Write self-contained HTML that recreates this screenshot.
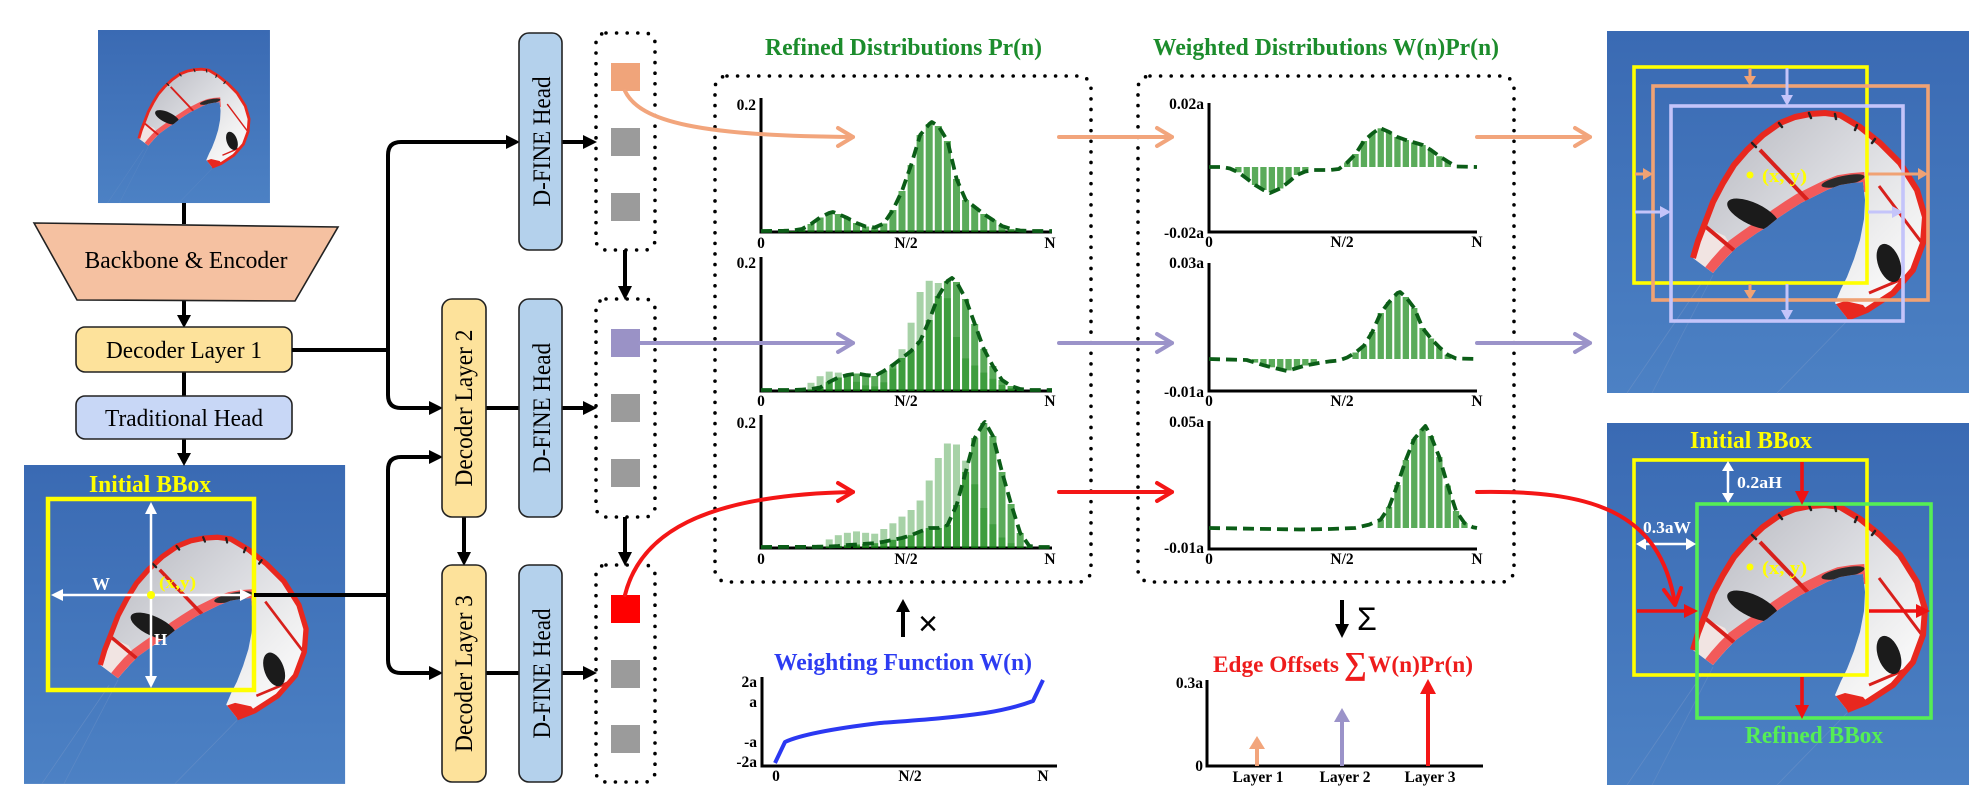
<!DOCTYPE html>
<html>
<head>
<meta charset="utf-8">
<style>
  html,body{margin:0;padding:0;background:#ffffff;}
  svg{display:block;}
</style>
</head>
<body>
<svg xmlns="http://www.w3.org/2000/svg" width="1983" height="809" viewBox="0 0 1983 809" font-family="'Liberation Serif','DejaVu Serif',serif">
  <defs>
    <linearGradient id="sky" x1="0" y1="0" x2="0" y2="1">
      <stop offset="0" stop-color="#3a6ab3"/>
      <stop offset="1" stop-color="#4c81c4"/>
    </linearGradient>
    <linearGradient id="kg" x1="0.1" y1="0.1" x2="0.9" y2="0.8">
      <stop offset="0" stop-color="#bcbdc4"/>
      <stop offset="0.45" stop-color="#d8d9de"/>
      <stop offset="0.8" stop-color="#eeeeef"/>
      <stop offset="1" stop-color="#f8f8f8"/>
    </linearGradient>
    <clipPath id="kc">
      <path d="M86,227 L91,210 L98,192 L106,171 L116,152 L127,134 L140,119 L156,104 L173,92 L188,86 L203,83 L218,82 L233,84 L253,96 L273,112 L293,132 L310,159 L318,186 L316,212 L306,239 L286,262 L260,279 L240,287 L228,272 L234,258 L240,246 L247,228 L253,209 L257,188 L258,169 L256,151 L245,152 L233,154 L220,159 L206,166 L194,172 L183,179 L171,187 L160,196 L150,202 L140,209 L129,217 L120,226 L112,235 L106,242 Z"/>
    </clipPath>
    <g id="photo">
      <rect x="0" y="0" width="362" height="362" fill="url(#sky)"/>
      <line x1="96" y1="250" x2="20" y2="362" stroke="#6f93c8" stroke-width="0.8" opacity="0.6"/>
      <line x1="106" y1="244" x2="45" y2="362" stroke="#6f93c8" stroke-width="0.8" opacity="0.5"/>
      <line x1="240" y1="290" x2="170" y2="362" stroke="#6f93c8" stroke-width="0.8" opacity="0.6"/>
      <path d="M86,227 L91,210 L98,192 L106,171 L116,152 L127,134 L140,119 L156,104 L173,92 L188,86 L203,83 L218,82 L233,84 L253,96 L273,112 L293,132 L310,159 L318,186 L316,212 L306,239 L286,262 L260,279 L240,287 L228,272 L234,258 L240,246 L247,228 L253,209 L257,188 L258,169 L256,151 L245,152 L233,154 L220,159 L206,166 L194,172 L183,179 L171,187 L160,196 L150,202 L140,209 L129,217 L120,226 L112,235 L106,242 Z" fill="url(#kg)"/>
      <g clip-path="url(#kc)">
        <polygon points="84,232 96,195 118,205 128,222 108,250" fill="#f1e4e2"/>
        <polyline points="100,250 112,235 120,226 129,217 140,209 150,202 160,196 171,187 183,179 194,172 206,166 220,159 233,154 245,152 258,151" stroke="#f25a5a" stroke-width="20" fill="none"/>
        <polygon points="226,274 240,290 262,281 256,274 238,270" fill="#e8281f"/>
        <line x1="99" y1="196" x2="135" y2="226" stroke="#d8201c" stroke-width="4"/>
        <line x1="153" y1="119" x2="210" y2="179" stroke="#d8201c" stroke-width="4"/>
        <line x1="272" y1="155" x2="318" y2="216" stroke="#d8201c" stroke-width="3"/>
        <line x1="262" y1="262" x2="300" y2="246" stroke="#d8201c" stroke-width="3"/>
        <ellipse cx="146" cy="183" rx="28" ry="11" transform="rotate(25 146 183)" fill="#1b1b1b"/>
        <ellipse cx="282" cy="232" rx="11" ry="20" transform="rotate(-20 282 232)" fill="#1b1b1b"/>
        <ellipse cx="236" cy="150" rx="22" ry="5" transform="rotate(-12 236 150)" fill="#2a2a2a"/>
      </g>
      <polyline points="86,227 91,210 98,192 106,171 116,152 127,134 140,119 156,104 173,92 188,86 203,83 218,82 233,84 253,96 273,112 293,132 310,159 318,186 316,212 306,239 286,262 260,279 240,287" stroke="#e8281f" stroke-width="6" fill="none" stroke-linejoin="round"/>
      <g stroke="#222" stroke-width="2.5" stroke-linecap="round">
        <line x1="145" y1="112" x2="149" y2="116"/>
        <line x1="172" y1="92" x2="175" y2="96"/>
        <line x1="202" y1="82" x2="204" y2="87"/>
        <line x1="228" y1="83" x2="229" y2="88"/>
        <line x1="250" y1="94" x2="248" y2="99"/>
        <line x1="268" y1="108" x2="265" y2="112"/>
      </g>
    </g>
  </defs>

  <!-- ============ LEFT COLUMN ============ -->
  <use href="#photo" transform="translate(98,30) scale(0.475,0.478)"/>
  <use href="#photo" transform="translate(24,465) scale(0.887,0.881)"/>

  <g stroke="#000" stroke-width="4" fill="none">
    <path d="M184,203 L184,224"/>
    <path d="M184,300 L184,316"/>
    <path d="M184,372 L184,396"/>
    <path d="M184,439 L184,454"/>
  </g>
  <g fill="#000">
    <polygon points="177,315 191,315 184,328"/>
    <polygon points="177,453 191,453 184,466"/>
  </g>

  <polygon points="34,223 338,227 295,301 77,300" fill="#f5c1a1" stroke="#222" stroke-width="1.6"/>
  <text x="186" y="268" font-size="24" text-anchor="middle" textLength="203" lengthAdjust="spacingAndGlyphs">Backbone &amp; Encoder</text>

  <rect x="76" y="327" width="216" height="45" rx="9" fill="#fde29b" stroke="#222" stroke-width="1.6"/>
  <text x="184" y="358" font-size="24" text-anchor="middle" textLength="156" lengthAdjust="spacingAndGlyphs">Decoder Layer 1</text>

  <rect x="76" y="396" width="216" height="43" rx="9" fill="#c8d7f6" stroke="#222" stroke-width="1.6"/>
  <text x="184" y="426" font-size="24" text-anchor="middle" textLength="158" lengthAdjust="spacingAndGlyphs">Traditional Head</text>

  <!-- bottom-left annotations -->
  <text x="150" y="492" font-size="24" font-weight="bold" fill="#ffff00" text-anchor="middle" textLength="122" lengthAdjust="spacingAndGlyphs">Initial BBox</text>
  <rect x="48" y="499" width="206" height="191" fill="none" stroke="#ffff00" stroke-width="4.5"/>
  <g stroke="#ffffff" stroke-width="2.5" fill="none">
    <line x1="151" y1="506" x2="151" y2="684"/>
    <line x1="56" y1="595" x2="246" y2="595"/>
  </g>
  <g fill="#ffffff">
    <polygon points="151,502 145,514 157,514"/>
    <polygon points="151,688 145,676 157,676"/>
    <polygon points="51,595 63,589 63,601"/>
    <polygon points="252,595 240,589 240,601"/>
  </g>
  <circle cx="151" cy="595" r="4" fill="#ffff00"/>
  <text x="92" y="590" font-size="18" font-weight="bold" fill="#ffffff">W</text>
  <text x="154" y="645" font-size="17" font-weight="bold" fill="#ffffff">H</text>
  <text x="159" y="588" font-size="17" font-weight="bold" fill="#ffff00" textLength="37" lengthAdjust="spacingAndGlyphs">(x,y)</text>

  <!-- connectors -->
  <g stroke="#000" stroke-width="4" fill="none" stroke-linejoin="round">
    <path d="M292,350 L388,350"/>
    <path d="M508,142 L401,142 Q388,142 388,155 L388,395 Q388,408 401,408 L431,408"/>
    <path d="M254,595 L388,595"/>
    <path d="M431,457 L401,457 Q388,457 388,470 L388,660 Q388,673 401,673 L431,673"/>
    <path d="M486,408 L519,408"/>
    <path d="M486,673 L519,673"/>
    <path d="M562,142 L585,142"/>
    <path d="M562,408 L585,408"/>
    <path d="M562,673 L585,673"/>
    <path d="M464,517 L464,554"/>
    <path d="M625,250 L625,288"/>
    <path d="M625,517 L625,554"/>
  </g>
  <g fill="#000">
    <polygon points="506,135 506,149 520,142"/>
    <polygon points="429,401 429,415 443,408"/>
    <polygon points="429,450 429,464 443,457"/>
    <polygon points="429,666 429,680 443,673"/>
    <polygon points="583,135 583,149 597,142"/>
    <polygon points="583,401 583,415 597,408"/>
    <polygon points="583,666 583,680 597,673"/>
    <polygon points="457,552 471,552 464,566"/>
    <polygon points="618,286 632,286 625,300"/>
    <polygon points="618,552 632,552 625,566"/>
  </g>

  <!-- decoder & heads -->
  <rect x="442" y="299" width="44" height="218" rx="10" fill="#fde29b" stroke="#222" stroke-width="1.6"/>
  <rect x="442" y="565" width="44" height="217" rx="10" fill="#fde29b" stroke="#222" stroke-width="1.6"/>
  <rect x="519" y="33" width="43" height="217" rx="10" fill="#b4d1ec" stroke="#222" stroke-width="1.6"/>
  <rect x="519" y="299" width="43" height="218" rx="10" fill="#b4d1ec" stroke="#222" stroke-width="1.6"/>
  <rect x="519" y="565" width="43" height="217" rx="10" fill="#b4d1ec" stroke="#222" stroke-width="1.6"/>
  <text transform="translate(472,408) rotate(-90)" font-size="25" text-anchor="middle" textLength="157" lengthAdjust="spacingAndGlyphs">Decoder Layer 2</text>
  <text transform="translate(472,673.5) rotate(-90)" font-size="25" text-anchor="middle" textLength="157" lengthAdjust="spacingAndGlyphs">Decoder Layer 3</text>
  <text transform="translate(550,141.5) rotate(-90)" font-size="25" text-anchor="middle" textLength="130" lengthAdjust="spacingAndGlyphs">D-FINE Head</text>
  <text transform="translate(550,408) rotate(-90)" font-size="25" text-anchor="middle" textLength="130" lengthAdjust="spacingAndGlyphs">D-FINE Head</text>
  <text transform="translate(550,673.5) rotate(-90)" font-size="25" text-anchor="middle" textLength="130" lengthAdjust="spacingAndGlyphs">D-FINE Head</text>

  <!-- dotted boxes -->
  <g fill="none" stroke="#000" stroke-width="3.6" stroke-linecap="round" stroke-dasharray="0 10.6">
    <rect x="596" y="33" width="59" height="217" rx="10"/>
    <rect x="596" y="299" width="59" height="218" rx="10"/>
    <rect x="596" y="565" width="59" height="217" rx="10"/>
    <rect x="715" y="76" width="376" height="506" rx="12"/>
    <rect x="1138" y="76" width="376" height="506" rx="12"/>
  </g>
  <rect x="611" y="63" width="29" height="28" fill="#f0a47a"/>
  <rect x="611" y="128" width="29" height="28" fill="#9b9b9b"/>
  <rect x="611" y="193" width="29" height="28" fill="#9b9b9b"/>
  <rect x="611" y="329" width="29" height="28" fill="#9a92c6"/>
  <rect x="611" y="394" width="29" height="28" fill="#9b9b9b"/>
  <rect x="611" y="459" width="29" height="28" fill="#9b9b9b"/>
  <rect x="611" y="595" width="29" height="28" fill="#ff0000"/>
  <rect x="611" y="660" width="29" height="28" fill="#9b9b9b"/>
  <rect x="611" y="725" width="29" height="28" fill="#9b9b9b"/>

  <!-- titles -->
  <text x="903.5" y="55" font-size="24" font-weight="bold" fill="#1c8c2c" text-anchor="middle" textLength="277" lengthAdjust="spacingAndGlyphs">Refined Distributions Pr(n)</text>
  <text x="1326" y="55" font-size="24" font-weight="bold" fill="#1c8c2c" text-anchor="middle" textLength="346" lengthAdjust="spacingAndGlyphs">Weighted Distributions W(n)Pr(n)</text>

  <!-- axes -->
  <g stroke="#000" stroke-width="3" fill="none">
    <path d="M761,98 L761,232 L1052,232"/>
    <path d="M761,257 L761,391 L1052,391"/>
    <path d="M761,415 L761,548 L1052,548"/>
    <path d="M1209,103 L1209,232 L1477,232"/>
    <path d="M1209,263 L1209,391 L1477,391"/>
    <path d="M1209,421 L1209,549 L1477,549"/>
    <path d="M762,677 L762,766 L1057,766"/>
    <path d="M1207,680 L1207,766 L1483,766"/>
  </g>

  <!-- ===== refined chart 1 bars ===== -->
  <g transform="translate(0,232) scale(1,-1)" fill="#0c830c" fill-opacity="0.68">
    <rect x="789.3" width="7" height="1"/>
    <rect x="798.4" width="7" height="3"/>
    <rect x="807.5" width="7" height="8"/>
    <rect x="816.6" width="7" height="14.5"/>
    <rect x="825.7" width="7" height="19"/>
    <rect x="834.8" width="7" height="18"/>
    <rect x="843.9" width="7" height="14"/>
    <rect x="853.0" width="7" height="9"/>
    <rect x="862.1" width="7" height="5.5"/>
    <rect x="871.2" width="7" height="4.5"/>
    <rect x="880.3" width="7" height="8.5"/>
    <rect x="889.4" width="7" height="22"/>
    <rect x="898.5" width="7" height="41"/>
    <rect x="907.6" width="7" height="67"/>
    <rect x="916.6" width="7" height="97"/>
    <rect x="925.7" width="7" height="108"/>
    <rect x="934.8" width="7" height="106"/>
    <rect x="943.9" width="7" height="91"/>
    <rect x="953.0" width="7" height="53"/>
    <rect x="962.1" width="7" height="32"/>
    <rect x="971.2" width="7" height="25"/>
    <rect x="980.3" width="7" height="18"/>
    <rect x="989.4" width="7" height="12"/>
    <rect x="998.5" width="7" height="6"/>
    <rect x="1007.6" width="7" height="3"/>
    <rect x="1016.7" width="7" height="1"/>
  </g>

  <!-- ===== refined chart 2 bars ===== -->
  <g transform="translate(0,391) scale(1,-1)" fill="#0c830c" fill-opacity="0.36">
    <rect x="789.3" width="7" height="1"/>
    <rect x="798.4" width="7" height="3.1"/>
    <rect x="807.5" width="7" height="8.2"/>
    <rect x="816.6" width="7" height="14.8"/>
    <rect x="825.7" width="7" height="19.4"/>
    <rect x="834.8" width="7" height="18.4"/>
    <rect x="843.9" width="7" height="14.3"/>
    <rect x="853.0" width="7" height="9.2"/>
    <rect x="862.1" width="7" height="5.6"/>
    <rect x="871.2" width="7" height="4.6"/>
    <rect x="880.3" width="7" height="8.7"/>
    <rect x="889.4" width="7" height="22.4"/>
    <rect x="898.5" width="7" height="41.8"/>
    <rect x="907.6" width="7" height="68.3"/>
    <rect x="916.6" width="7" height="99"/>
    <rect x="925.7" width="7" height="110.2"/>
    <rect x="934.8" width="7" height="108"/>
    <rect x="943.9" width="7" height="92.8"/>
    <rect x="953.0" width="7" height="54"/>
    <rect x="962.1" width="7" height="32.6"/>
    <rect x="971.2" width="7" height="25.5"/>
    <rect x="980.3" width="7" height="18.4"/>
    <rect x="989.4" width="7" height="12.2"/>
    <rect x="998.5" width="7" height="6.1"/>
    <rect x="1007.6" width="7" height="3.1"/>
    <rect x="1016.7" width="7" height="1"/>
  </g>
  <g transform="translate(0,391) scale(1,-1)" fill="#0c830c" fill-opacity="0.68">
    <rect x="807.5" width="7" height="1.5"/>
    <rect x="816.6" width="7" height="3.5"/>
    <rect x="825.7" width="7" height="9"/>
    <rect x="834.8" width="7" height="13.5"/>
    <rect x="843.9" width="7" height="16"/>
    <rect x="853.0" width="7" height="17.5"/>
    <rect x="862.1" width="7" height="16"/>
    <rect x="871.2" width="7" height="15"/>
    <rect x="880.3" width="7" height="20"/>
    <rect x="889.4" width="7" height="26"/>
    <rect x="898.5" width="7" height="33"/>
    <rect x="907.6" width="7" height="40"/>
    <rect x="916.6" width="7" height="50"/>
    <rect x="925.7" width="7" height="71"/>
    <rect x="934.8" width="7" height="95"/>
    <rect x="943.9" width="7" height="110"/>
    <rect x="953.0" width="7" height="109"/>
    <rect x="962.1" width="7" height="92"/>
    <rect x="971.2" width="7" height="67"/>
    <rect x="980.3" width="7" height="42"/>
    <rect x="989.4" width="7" height="25"/>
    <rect x="998.5" width="7" height="11"/>
    <rect x="1007.6" width="7" height="5"/>
    <rect x="1016.7" width="7" height="1.6"/>
  </g>

  <!-- ===== refined chart 3 bars ===== -->
  <g transform="translate(0,548) scale(1,-1)" fill="#0c830c" fill-opacity="0.36">
    <rect x="807.5" width="7" height="1.4"/>
    <rect x="816.6" width="7" height="3.3"/>
    <rect x="825.7" width="7" height="8.6"/>
    <rect x="834.8" width="7" height="12.8"/>
    <rect x="843.9" width="7" height="15.2"/>
    <rect x="853.0" width="7" height="16.6"/>
    <rect x="862.1" width="7" height="15.2"/>
    <rect x="871.2" width="7" height="14.3"/>
    <rect x="880.3" width="7" height="19"/>
    <rect x="889.4" width="7" height="24.7"/>
    <rect x="898.5" width="7" height="31.4"/>
    <rect x="907.6" width="7" height="38"/>
    <rect x="916.6" width="7" height="47.5"/>
    <rect x="925.7" width="7" height="67.5"/>
    <rect x="934.8" width="7" height="90"/>
    <rect x="943.9" width="7" height="104.5"/>
    <rect x="953.0" width="7" height="103.5"/>
    <rect x="962.1" width="7" height="87.4"/>
    <rect x="971.2" width="7" height="63.7"/>
    <rect x="980.3" width="7" height="40"/>
    <rect x="989.4" width="7" height="23.8"/>
    <rect x="998.5" width="7" height="10.5"/>
    <rect x="1007.6" width="7" height="4.8"/>
    <rect x="1016.7" width="7" height="1.5"/>
  </g>
  <g transform="translate(0,548) scale(1,-1)" fill="#0c830c" fill-opacity="0.68">
    <rect x="825.7" width="7" height="1.3"/>
    <rect x="834.8" width="7" height="2"/>
    <rect x="843.9" width="7" height="3"/>
    <rect x="853.0" width="7" height="3.5"/>
    <rect x="862.1" width="7" height="4.2"/>
    <rect x="871.2" width="7" height="4.8"/>
    <rect x="880.3" width="7" height="6.3"/>
    <rect x="889.4" width="7" height="8.2"/>
    <rect x="898.5" width="7" height="10"/>
    <rect x="907.6" width="7" height="12.8"/>
    <rect x="916.6" width="7" height="16.5"/>
    <rect x="925.7" width="7" height="20"/>
    <rect x="934.8" width="7" height="20"/>
    <rect x="943.9" width="7" height="23"/>
    <rect x="953.0" width="7" height="43"/>
    <rect x="962.1" width="7" height="76"/>
    <rect x="971.2" width="7" height="110"/>
    <rect x="980.3" width="7" height="125"/>
    <rect x="989.4" width="7" height="112"/>
    <rect x="998.5" width="7" height="76"/>
    <rect x="1007.6" width="7" height="44"/>
    <rect x="1016.7" width="7" height="15"/>
    <rect x="1025.8" width="7" height="1.5"/>
  </g>

  <!-- ===== weighted chart bars ===== -->
  <g fill="#0c830c" fill-opacity="0.68">
    <g transform="translate(0,167) scale(1,-1)">
      <rect x="1344.1" width="6.3" height="4.5"/>
      <rect x="1352.4" width="6.3" height="13"/>
      <rect x="1360.8" width="6.3" height="26"/>
      <rect x="1369.2" width="6.3" height="33.5"/>
      <rect x="1377.6" width="6.3" height="38.7"/>
      <rect x="1385.9" width="6.3" height="35"/>
      <rect x="1394.3" width="6.3" height="30"/>
      <rect x="1402.7" width="6.3" height="27"/>
      <rect x="1411.1" width="6.3" height="24.5"/>
      <rect x="1419.4" width="6.3" height="22"/>
      <rect x="1427.8" width="6.3" height="17"/>
      <rect x="1436.2" width="6.3" height="10.8"/>
      <rect x="1444.6" width="6.3" height="5.5"/>
    </g>
    <g transform="translate(0,167)">
      <rect x="1235.2" width="6.3" height="5.3"/>
      <rect x="1243.6" width="6.3" height="11.5"/>
      <rect x="1251.9" width="6.3" height="18"/>
      <rect x="1260.3" width="6.3" height="23"/>
      <rect x="1268.7" width="6.3" height="25.5"/>
      <rect x="1277.1" width="6.3" height="21.5"/>
      <rect x="1285.4" width="6.3" height="15"/>
      <rect x="1293.8" width="6.3" height="8"/>
      <rect x="1302.2" width="6.3" height="4.5"/>
    </g>
    <g transform="translate(0,359) scale(1,-1)">
      <rect x="1352.4" width="6.3" height="6.5"/>
      <rect x="1360.8" width="6.3" height="13.3"/>
      <rect x="1369.2" width="6.3" height="27"/>
      <rect x="1377.6" width="6.3" height="46"/>
      <rect x="1385.9" width="6.3" height="57"/>
      <rect x="1394.3" width="6.3" height="66"/>
      <rect x="1402.7" width="6.3" height="62"/>
      <rect x="1411.1" width="6.3" height="51"/>
      <rect x="1419.4" width="6.3" height="31"/>
      <rect x="1427.8" width="6.3" height="20.5"/>
      <rect x="1436.2" width="6.3" height="11.8"/>
      <rect x="1444.6" width="6.3" height="4.2"/>
    </g>
    <g transform="translate(0,359)">
      <rect x="1251.9" width="6.3" height="3.6"/>
      <rect x="1260.3" width="6.3" height="6.2"/>
      <rect x="1268.7" width="6.3" height="8.3"/>
      <rect x="1277.1" width="6.3" height="10.4"/>
      <rect x="1285.4" width="6.3" height="11.4"/>
      <rect x="1293.8" width="6.3" height="9"/>
      <rect x="1302.2" width="6.3" height="6.5"/>
      <rect x="1310.6" width="6.3" height="5"/>
    </g>
    <g transform="translate(0,528) scale(1,-1)">
      <rect x="1377.6" width="6.3" height="8.4"/>
      <rect x="1385.9" width="6.3" height="21"/>
      <rect x="1394.3" width="6.3" height="43"/>
      <rect x="1402.7" width="6.3" height="68"/>
      <rect x="1411.1" width="6.3" height="89"/>
      <rect x="1419.4" width="6.3" height="99"/>
      <rect x="1427.8" width="6.3" height="92"/>
      <rect x="1436.2" width="6.3" height="71"/>
      <rect x="1444.6" width="6.3" height="42.5"/>
      <rect x="1452.9" width="6.3" height="17"/>
      <rect x="1461.3" width="6.3" height="5"/>
    </g>
  </g>

  <!-- dashed curves -->
  <g fill="none" stroke="#0b5d17" stroke-width="3.8" stroke-dasharray="11 6" stroke-linejoin="round">
    <path d="M761,231 L783.7,230.8 L792.8,230.5 L801.9,229 L811,224 L820.1,217.5 L829.2,213 L833,212 L838.3,214 L847.4,218 L856.5,223 L865.6,226.5 L874.7,227.5 L883.8,223.5 L892.9,210 L902,191 L911.1,165 L920.2,135 L929.3,124 L931.8,122 L938.4,126 L947.5,141 L956.6,179 L965.7,200 L974.8,207 L983.8,214 L992.9,220 L1002,226 L1011.1,229 L1020.2,230.5 L1029.3,231 L1052,231"/>
    <path d="M761,390 L792.8,390 L801.9,389.6 L811,389 L820.1,387.5 L829.2,382 L838.3,377.5 L847.4,375 L856.5,373.5 L865.6,375 L874.7,376 L883.8,371 L892.9,365 L902,358 L911.1,351 L920.2,341 L929.3,320 L938.4,296 L947.5,281 L952,278 L956.6,282 L965.7,299 L974.8,324 L983.8,349 L992.9,366 L1002,380 L1011.1,386 L1020.2,389 L1029.3,390 L1052,390"/>
    <path d="M761,547 L816.6,546.8 L829.2,546.5 L838.3,546 L847.4,545 L856.5,544.5 L865.6,543.8 L874.7,543.2 L883.8,541.7 L892.9,539.8 L902,538 L911.1,535.2 L920.2,531.5 L929.3,528 L938.4,528 L947.5,525 L956.6,505 L965.7,472 L974.8,438 L983.8,423 L985,422 L992.9,436 L1002,472 L1011.1,504 L1020.2,533 L1029.3,546 L1038.4,547 L1052,547"/>
    <path d="M1209,167 L1221.6,167 L1229.9,168.5 L1238.3,172.3 L1246.7,178.5 L1255.1,185 L1263.4,190 L1270,193 L1280.2,188.5 L1288.6,182 L1296.9,175 L1305.3,171.5 L1313.7,170 L1330.4,170 L1338.8,169 L1347.2,162.5 L1355.6,154 L1363.9,141 L1372.3,133.5 L1380,128 L1389.1,132 L1397.4,137 L1405.8,140 L1414.2,142.5 L1422.6,145 L1430.9,150 L1439.3,156.2 L1447.7,161.5 L1456.1,166.5 L1477,167"/>
    <path d="M1209,359 L1246.7,360 L1255.1,362.6 L1263.4,365.2 L1271.8,367.3 L1280.2,369.4 L1287,371 L1296.9,368 L1305.3,365.5 L1313.7,364 L1322.1,362.4 L1330.4,361.3 L1338.8,360.5 L1347.2,357.5 L1355.6,352.5 L1363.9,345.7 L1372.3,332 L1380.7,313 L1389.1,302 L1397.4,293 L1400,292 L1405.8,297 L1414.2,308 L1422.6,328 L1430.9,338.5 L1439.3,347.2 L1447.7,354.8 L1456.1,358.5 L1477,359"/>
    <path d="M1209,528 L1300,529.5 L1330,529 L1355,528 L1369.2,524.6 L1380.7,519.6 L1389.1,507 L1397.4,485 L1405.8,460 L1414.2,439 L1422.6,429 L1425.4,426 L1430.9,436 L1439.3,457 L1447.7,485.5 L1456.1,511 L1464.4,523 L1472.8,527.2 L1477,528"/>
  </g>

  <!-- tick labels -->
  <g font-size="15.5" font-weight="bold" fill="#000">
    <text x="756" y="110" text-anchor="end">0.2</text>
    <text x="756" y="268" text-anchor="end">0.2</text>
    <text x="756" y="428" text-anchor="end">0.2</text>
    <text x="761" y="248" text-anchor="middle">0</text>
    <text x="906" y="248" text-anchor="middle">N/2</text>
    <text x="1050" y="248" text-anchor="middle">N</text>
    <text x="761" y="406" text-anchor="middle">0</text>
    <text x="906" y="406" text-anchor="middle">N/2</text>
    <text x="1050" y="406" text-anchor="middle">N</text>
    <text x="761" y="564" text-anchor="middle">0</text>
    <text x="906" y="564" text-anchor="middle">N/2</text>
    <text x="1050" y="564" text-anchor="middle">N</text>

    <text x="1204" y="109" text-anchor="end">0.02a</text>
    <text x="1204" y="238" text-anchor="end">-0.02a</text>
    <text x="1204" y="268" text-anchor="end">0.03a</text>
    <text x="1204" y="397" text-anchor="end">-0.01a</text>
    <text x="1204" y="427" text-anchor="end">0.05a</text>
    <text x="1204" y="553" text-anchor="end">-0.01a</text>
    <text x="1209" y="247" text-anchor="middle">0</text>
    <text x="1342" y="247" text-anchor="middle">N/2</text>
    <text x="1477" y="247" text-anchor="middle">N</text>
    <text x="1209" y="406" text-anchor="middle">0</text>
    <text x="1342" y="406" text-anchor="middle">N/2</text>
    <text x="1477" y="406" text-anchor="middle">N</text>
    <text x="1209" y="564" text-anchor="middle">0</text>
    <text x="1342" y="564" text-anchor="middle">N/2</text>
    <text x="1477" y="564" text-anchor="middle">N</text>

    <text x="757" y="687" text-anchor="end">2a</text>
    <text x="757" y="707" text-anchor="end">a</text>
    <text x="757" y="747" text-anchor="end">-a</text>
    <text x="757" y="767" text-anchor="end">-2a</text>
    <text x="776" y="781" text-anchor="middle">0</text>
    <text x="910" y="781" text-anchor="middle">N/2</text>
    <text x="1043" y="781" text-anchor="middle">N</text>

    <text x="1203" y="688" text-anchor="end">0.3a</text>
    <text x="1203" y="771" text-anchor="end">0</text>
    <text x="1258" y="782" text-anchor="middle">Layer 1</text>
    <text x="1345" y="782" text-anchor="middle">Layer 2</text>
    <text x="1430" y="782" text-anchor="middle">Layer 3</text>
  </g>

  <!-- colored flow arrows -->
  <g fill="none" stroke-width="4" stroke-linecap="round" stroke-linejoin="round">
    <path d="M625,91 C640,122 700,136 853,137" stroke="#f2a57c"/>
    <polyline points="838,128 853,137 838,146" stroke="#f2a57c"/>
    <path d="M640,343 L853,343" stroke="#9b93c9"/>
    <polyline points="838,334 853,343 838,352" stroke="#9b93c9"/>
    <path d="M625,595 C640,535 700,495 853,492" stroke="#f41616"/>
    <polyline points="838,483 853,492 838,501" stroke="#f41616"/>

    <path d="M1059,137 L1172,137" stroke="#f2a57c"/>
    <polyline points="1157,128 1172,137 1157,146" stroke="#f2a57c"/>
    <path d="M1059,343 L1172,343" stroke="#9b93c9"/>
    <polyline points="1157,334 1172,343 1157,352" stroke="#9b93c9"/>
    <path d="M1059,492 L1172,492" stroke="#f41616"/>
    <polyline points="1157,483 1172,492 1157,501" stroke="#f41616"/>

    <path d="M1477,137 L1590,137" stroke="#f2a57c"/>
    <polyline points="1575,128 1590,137 1575,146" stroke="#f2a57c"/>
    <path d="M1477,343 L1590,343" stroke="#9b93c9"/>
    <polyline points="1575,334 1590,343 1575,352" stroke="#9b93c9"/>
  </g>

  <!-- weighting function -->
  <g fill="#000">
    <line x1="903" y1="637" x2="903" y2="610" stroke="#000" stroke-width="4"/>
    <polygon points="896,612 910,612 903,599"/>
    <line x1="1342" y1="600" x2="1342" y2="626" stroke="#000" stroke-width="4"/>
    <polygon points="1335,624 1349,624 1342,638"/>
  </g>
  <text x="928" y="635" font-size="34" font-family="'Liberation Sans','DejaVu Sans',sans-serif" text-anchor="middle">×</text>
  <text x="1357" y="630" font-size="32" font-family="'Liberation Sans','DejaVu Sans',sans-serif">Σ</text>

  <text x="903" y="670" font-size="24" font-weight="bold" fill="#2d3cf2" text-anchor="middle" textLength="258" lengthAdjust="spacingAndGlyphs">Weighting Function W(n)</text>
  <path d="M775,763 L785,742 C800,735 830,729 880,723 C920,720 950,718 985,713 C1010,709 1025,704 1033,701 L1043,680" fill="none" stroke="#2b38f2" stroke-width="4" stroke-linejoin="round"/>

  <!-- edge offsets -->
  <text x="1213" y="672" font-size="23" font-weight="bold" fill="#ee1c1c" textLength="126" lengthAdjust="spacingAndGlyphs">Edge Offsets</text>
  <text x="1344" y="674" font-size="32" font-weight="bold" fill="#ee1c1c">∑</text>
  <text x="1368" y="672" font-size="23" font-weight="bold" fill="#ee1c1c" textLength="105" lengthAdjust="spacingAndGlyphs">W(n)Pr(n)</text>
  <g stroke-width="4">
    <line x1="1257" y1="766" x2="1257" y2="747" stroke="#f2a57c"/>
    <line x1="1342" y1="766" x2="1342" y2="720" stroke="#9b93c9"/>
    <line x1="1428" y1="766" x2="1428" y2="692" stroke="#f41616"/>
  </g>
  <polygon points="1249,749 1265,749 1257,736" fill="#f2a57c"/>
  <polygon points="1334,722 1350,722 1342,708" fill="#9b93c9"/>
  <polygon points="1420,694 1436,694 1428,679" fill="#f41616"/>

  <!-- ============ RIGHT IMAGES ============ -->
  <use href="#photo" transform="translate(1607,31)"/>
  <use href="#photo" transform="translate(1607,423)"/>

  <!-- top right overlays -->
  <g fill="none" stroke-width="3.6">
    <rect x="1634" y="67" width="233" height="216" stroke="#ffff00"/>
    <rect x="1653" y="86" width="275" height="214" stroke="#f0a274"/>
    <rect x="1671" y="106" width="232" height="215" stroke="#c4c4fa"/>
  </g>
  <g stroke-width="3">
    <line x1="1750" y1="68" x2="1750" y2="78" stroke="#f0a274"/>
    <line x1="1750" y1="284" x2="1750" y2="292" stroke="#f0a274"/>
    <line x1="1787" y1="68" x2="1787" y2="97" stroke="#c4c4fa"/>
    <line x1="1787" y1="284" x2="1787" y2="312" stroke="#c4c4fa"/>
    <line x1="1635" y1="174" x2="1645" y2="174" stroke="#f0a274"/>
    <line x1="1635" y1="212" x2="1662" y2="212" stroke="#c4c4fa"/>
    <line x1="1868" y1="174" x2="1920" y2="174" stroke="#f0a274"/>
    <line x1="1868" y1="212" x2="1894" y2="212" stroke="#c4c4fa"/>
  </g>
  <g>
    <polygon points="1744,76 1756,76 1750,86" fill="#f0a274"/>
    <polygon points="1744,290 1756,290 1750,300" fill="#f0a274"/>
    <polygon points="1781,95 1793,95 1787,106" fill="#c4c4fa"/>
    <polygon points="1781,310 1793,310 1787,321" fill="#c4c4fa"/>
    <polygon points="1643,168 1643,180 1653,174" fill="#f0a274"/>
    <polygon points="1660,206 1660,218 1671,212" fill="#c4c4fa"/>
    <polygon points="1918,168 1918,180 1928,174" fill="#f0a274"/>
    <polygon points="1892,206 1892,218 1903,212" fill="#c4c4fa"/>
  </g>
  <circle cx="1750" cy="175" r="3.5" fill="#ffff00"/>
  <text x="1762" y="182" font-size="19" font-weight="bold" fill="#ffff00" textLength="45" lengthAdjust="spacingAndGlyphs">(x, y)</text>

  <!-- bottom right overlays -->
  <text x="1751" y="448" font-size="24" font-weight="bold" fill="#ffff00" text-anchor="middle" textLength="122" lengthAdjust="spacingAndGlyphs">Initial BBox</text>
  <rect x="1634" y="460" width="233" height="215" fill="none" stroke="#ffff00" stroke-width="3.6"/>
  <rect x="1697" y="504" width="234" height="214" fill="none" stroke="#55ee55" stroke-width="3.6"/>
  <text x="1814" y="743" font-size="24" font-weight="bold" fill="#55ee55" text-anchor="middle" textLength="138" lengthAdjust="spacingAndGlyphs">Refined BBox</text>
  <g stroke="#ffffff" stroke-width="2.5">
    <line x1="1728" y1="468" x2="1728" y2="496"/>
    <line x1="1642" y1="544" x2="1689" y2="544"/>
  </g>
  <g fill="#ffffff">
    <polygon points="1728,461 1722,471 1734,471"/>
    <polygon points="1728,503 1722,493 1734,493"/>
    <polygon points="1636,544 1646,538 1646,550"/>
    <polygon points="1696,544 1686,538 1686,550"/>
  </g>
  <text x="1737" y="488" font-size="17" font-weight="bold" fill="#ffffff" textLength="45" lengthAdjust="spacingAndGlyphs">0.2aH</text>
  <text x="1643" y="533" font-size="17" font-weight="bold" fill="#ffffff" textLength="48" lengthAdjust="spacingAndGlyphs">0.3aW</text>
  <g stroke="#ee1212" stroke-width="3.6">
    <line x1="1802" y1="462" x2="1802" y2="493"/>
    <line x1="1802" y1="677" x2="1802" y2="707"/>
    <line x1="1637" y1="611" x2="1686" y2="611"/>
    <line x1="1869" y1="611" x2="1918" y2="611"/>
  </g>
  <g fill="#ee1212">
    <polygon points="1795,491 1809,491 1802,505"/>
    <polygon points="1795,705 1809,705 1802,719"/>
    <polygon points="1684,604 1684,618 1698,611"/>
    <polygon points="1916,604 1916,618 1930,611"/>
  </g>
  <circle cx="1750" cy="567" r="3.5" fill="#ffff00"/>
  <text x="1762" y="574" font-size="19" font-weight="bold" fill="#ffff00" textLength="45" lengthAdjust="spacingAndGlyphs">(x, y)</text>

  <!-- red curved arrow into final image -->
  <g fill="none" stroke="#f41616" stroke-width="4" stroke-linecap="round" stroke-linejoin="round">
    <path d="M1477,492 C1590,490 1660,510 1675,604"/>
    <polyline points="1664,590 1675,605 1681,588"/>
  </g>
</svg>
</body>
</html>
